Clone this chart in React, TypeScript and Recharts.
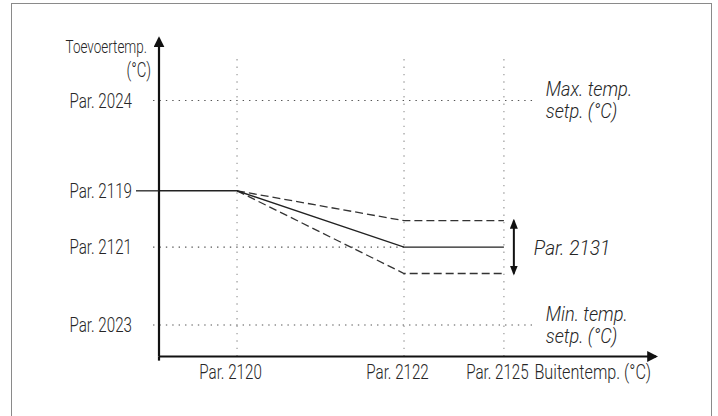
import React from 'react';
import { ComposedChart, Line, XAxis, YAxis, ReferenceLine } from 'recharts';

const W = 718;
const H = 416;

// Abstract units: x 0 = vertical axis, 100 = arrow tip; y 0 = horizontal axis, 100 = arrow tip
const xTickValues = [15.7, 49.3, 69.4];
const xTickLabels = ['Par. 2120', 'Par. 2122', 'Par. 2125'];
const yTickValues = [80.5, 52.1, 34.4, 9.9];
const yTickLabels = ['Par. 2024', 'Par. 2119', 'Par. 2121', 'Par. 2023'];

const mainX = [0, 15.7, 49.3, 69.4];
const mainY = [52.1, 52.1, 34.4, 34.4];
const bandX = [15.7, 49.3, 69.4];
const upperY = [52.1, 42.7, 42.7];
const lowerY = [52.1, 26.1, 26.1];

const maxSetpoint = 80.5;
const minSetpoint = 9.9;
const targetLevel = 34.4;
const setpointLineStart = -1.2;
const setpointLineEnd = 75.6;
const gridTop = 94.8;
const bandArrowX = 71.4;

const yAxisTitle = ['Toevoertemp.', '(°C)'];
const xAxisTitle = 'Buitentemp. (°C)';
const maxLabel = ['Max. temp.', 'setp. (°C)'];
const minLabel = ['Min. temp.', 'setp. (°C)'];
const bandLabel = 'Par. 2131';

const mainData = mainX.map((x, i) => ({ x, y: mainY[i] }));
const upperData = bandX.map((x, i) => ({ x, y: upperY[i] }));
const lowerData = bandX.map((x, i) => ({ x, y: lowerY[i] }));

const FONT = "Roboto, 'Liberation Sans', Arial, sans-serif";
const TEXT = '#262626';
const SX = 0.74;

const CText = ({ x, y, anchor = 'start', size = 20.5, italic = false, dy = 0, sx = SX, children }: any) => (
  <text
    transform={`translate(${x} ${y}) scale(${sx} 1)`}
    dy={dy}
    textAnchor={anchor}
    fontFamily={FONT}
    fontSize={size}
    fontStyle={italic ? 'italic' : 'normal'}
    fontWeight={300}
    fill={TEXT}
  >
    {children}
  </text>
);

const YTick = (props: any) => {
  const { x, y, payload } = props;
  const idx = yTickValues.indexOf(payload.value);
  const label = yTickLabels[idx];
  return (
    <g>
      <CText x={x} y={y} dy="0.36em" anchor="end">{label}</CText>
      {label === 'Par. 2119' && (
        <line x1={x + 4} x2={x + 27} y1={y} y2={y} stroke="#222" strokeWidth={1.3} />
      )}
    </g>
  );
};

const XTick = (props: any) => {
  const { x, y, payload } = props;
  const idx = xTickValues.indexOf(payload.value);
  return (
    <CText x={x - 6.5} y={y + 22.5} anchor="middle">
      {xTickLabels[idx]}
    </CText>
  );
};

const TwoLine = (lines: string[]) => (props: any) => {
  const vb = props.viewBox || {};
  const x = vb.x + vb.width + 11;
  const y = vb.y;
  return (
    <g>
      <CText x={x} y={y - 4.5} size={20} sx={0.91} italic>{lines[0]}</CText>
      <CText x={x} y={y + 17.5} size={20} sx={0.91} italic>{lines[1]}</CText>
    </g>
  );
};

const BandLabel = (props: any) => {
  const vb = props.viewBox || {};
  return (
    <CText x={vb.x + vb.width + 20} y={vb.y + vb.height / 2} dy="0.36em" size={20.5} sx={0.93} italic>
      {bandLabel}
    </CText>
  );
};

const YTitle = (props: any) => {
  const vb = props.viewBox || {};
  const right = vb.x + vb.width;
  return (
    <g>
      <CText x={right - 12} y={vb.y + 14.5} anchor="end" size={18.2}>{yAxisTitle[0]}</CText>
      <CText x={right - 8} y={vb.y + 38} anchor="end" size={20}>{yAxisTitle[1]}</CText>
    </g>
  );
};

const XTitle = (props: any) => {
  const vb = props.viewBox || {};
  return (
    <CText x={vb.x + vb.width - 5} y={vb.y + 22.5} anchor="end" sx={0.79}>
      {xAxisTitle}
    </CText>
  );
};

export default function App() {
  return (
    <div style={{ position: 'absolute', left: 0, top: 0, width: W, height: H, overflow: 'hidden', background: '#fff' }}>
      <svg width={0} height={0} style={{ position: 'absolute' }}>
        <defs>
          <marker id="bigArrow" viewBox="0 0 10 10" refX="8" refY="5" markerWidth="11" markerHeight="11" markerUnits="userSpaceOnUse" orient="auto-start-reverse">
            <path d="M0,0 L10,5 L0,10 z" fill="#111" />
          </marker>
          <marker id="smallArrow" viewBox="0 0 10 10" refX="8" refY="5" markerWidth="10" markerHeight="8" markerUnits="userSpaceOnUse" orient="auto-start-reverse" preserveAspectRatio="none">
            <path d="M0,0 L10,5 L0,10 z" fill="#111" />
          </marker>
        </defs>
      </svg>
      <div
        style={{
          position: 'absolute',
          left: 11,
          top: 3,
          width: 701,
          height: 440,
          border: '1.5px solid #8a8a8a',
          boxSizing: 'border-box',
        }}
      />
      <div style={{ position: 'absolute', left: 0, top: 0 }}>
        <ComposedChart width={W} height={H} margin={{ top: 38.5, right: 62, left: 0, bottom: 0 }}>
          <XAxis
            type="number"
            dataKey="x"
            domain={[0, 100]}
            ticks={xTickValues}
            tick={<XTick />}
            tickLine={false}
            tickSize={0}
            tickMargin={0}
            height={59.5}
            axisLine={{ stroke: '#111', strokeWidth: 2.2, markerEnd: 'url(#bigArrow)' } as any}
            label={{ content: <XTitle /> } as any}
          />
          <YAxis
            type="number"
            dataKey="y"
            domain={[0, 100]}
            ticks={yTickValues}
            tick={<YTick />}
            tickLine={false}
            tickSize={0}
            tickMargin={27}
            width={159}
            axisLine={{ stroke: '#111', strokeWidth: 2.2, markerStart: 'url(#bigArrow)' } as any}
            label={{ content: <YTitle /> } as any}
          />
          {xTickValues.map((v) => (
            <ReferenceLine
              key={'g' + v}
              segment={[{ x: v, y: 0 }, { x: v, y: gridTop }]}
              stroke="#9a9a9a"
              strokeWidth={1.2}
              strokeDasharray="1.4 6"
              ifOverflow="visible"
            />
          ))}
          <ReferenceLine
            segment={[{ x: setpointLineStart, y: maxSetpoint }, { x: setpointLineEnd, y: maxSetpoint }]}
            stroke="#555"
            strokeWidth={1.2}
            strokeDasharray="1.4 5"
            ifOverflow="visible"
            label={{ content: TwoLine(maxLabel) } as any}
          />
          <ReferenceLine
            segment={[{ x: setpointLineStart, y: targetLevel }, { x: 49.3, y: targetLevel }]}
            stroke="#555"
            strokeWidth={1.2}
            strokeDasharray="1.4 5"
            ifOverflow="visible"
          />
          <ReferenceLine
            segment={[{ x: setpointLineStart, y: minSetpoint }, { x: setpointLineEnd, y: minSetpoint }]}
            stroke="#555"
            strokeWidth={1.2}
            strokeDasharray="1.4 5"
            ifOverflow="visible"
            label={{ content: TwoLine(minLabel) } as any}
          />
          <ReferenceLine
            segment={[{ x: 0, y: 0 }, { x: 0, y: -1.3 }]}
            stroke="#111"
            strokeWidth={2.2}
            ifOverflow="visible"
          />
          <ReferenceLine
            segment={[{ x: bandArrowX, y: upperY[2] }, { x: bandArrowX, y: lowerY[2] }]}
            stroke="#111"
            strokeWidth={2}
            ifOverflow="visible"
            {...({ markerStart: 'url(#smallArrow)', markerEnd: 'url(#smallArrow)' } as any)}
            label={{ content: <BandLabel /> } as any}
          />
          <Line data={upperData} dataKey="y" type="linear" stroke="#333" strokeWidth={1.3} strokeDasharray="8 4" dot={false} activeDot={false} isAnimationActive={false} />
          <Line data={lowerData} dataKey="y" type="linear" stroke="#333" strokeWidth={1.3} strokeDasharray="8 4" dot={false} activeDot={false} isAnimationActive={false} />
          <Line data={mainData} dataKey="y" type="linear" stroke="#222" strokeWidth={1.4} dot={false} activeDot={false} isAnimationActive={false} />
        </ComposedChart>
      </div>
    </div>
  );
}
